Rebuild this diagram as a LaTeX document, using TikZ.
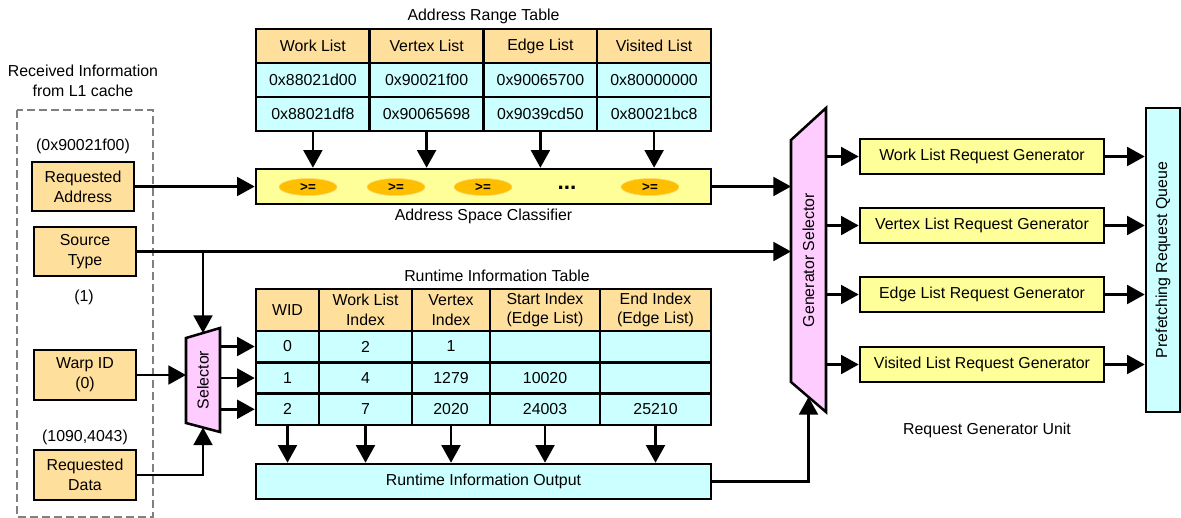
\documentclass[tikz,border=0pt]{standalone}
\usepackage{fontspec}
\setmainfont{Liberation Sans}
\usepackage{xcolor}
\usetikzlibrary{shapes,arrows.meta,positioning,calc}

\definecolor{hdrorange}{HTML}{FFDF9C}
\definecolor{cellcyan}{HTML}{CCFFFF}
\definecolor{unityellow}{HTML}{FFFF99}
\definecolor{cmpgold}{HTML}{FFBF00}
\definecolor{selpink}{HTML}{FFCCFF}

\tikzset{
  box/.style={draw, line width=1.8pt, inner sep=1pt, align=center, font=\fontsize{11.3}{14}\selectfont},
  hdr/.style={box, fill=hdrorange},
  cell/.style={box, fill=cellcyan},
  gen/.style={box, fill=unityellow},
  cmp/.style={ellipse, fill=cmpgold, draw=cmpgold!60, minimum width=14.5mm, minimum height=4.25mm, inner sep=0, font=\bfseries\fontsize{9.5}{9.5}\selectfont},
  arr/.style={line width=1.8pt, -{Triangle[length=4.4mm,width=4.7mm]}},
  lbl/.style={align=center, font=\fontsize{11.3}{14}\selectfont},
}

\begin{document}
\begin{tikzpicture}[x=0.025cm, y=-0.025cm]
        \useasboundingbox (0,0) rectangle (1181,518);
        % Received information
        \draw[gray, line width=0.8pt, dash pattern=on 2mm off 1mm] (17,110) rectangle (153,517);
        \node[lbl] (rcv) at (83,81) {Received Information\\from L1 cache};
        \node[hdr, minimum width=25.5mm, minimum height=12.25mm] (reqaddr) at (83,186.5) {Requested\\Address};
        \node[hdr, minimum width=25.5mm, minimum height=12.25mm] (srctype) at (85,251.5) {Source\\Type};
        \node[hdr, minimum width=25.5mm, minimum height=12.5mm] (warpid) at (85,375) {Warp ID\\(0)};
        \node[hdr, minimum width=25.5mm, minimum height=12.5mm] (reqdata) at (85,475) {Requested\\Data};
        \node[lbl] (addrval) at (83,146) {(0x90021f00)};
        \node[lbl] (typeval) at (84,297) {(1)};
        \node[lbl] (dataval) at (85,437) {(1090,4043)};
        % Address space classifier
        \node[gen, minimum width=113.75mm, minimum height=8.75mm] (asc) at (483.5,186.5) {};
        \foreach \x [count=\i] in {308,396,483,650} {
            \node[cmp] (cmp\i) at (\x,187) {>=};
        }
        \node[font=\bfseries\fontsize{16}{16}\selectfont] (dots) at (567,188) {...};
        \node[lbl] (asclbl) at (483.5,216) {Address Space Classifier};
        % Address range table
        \node[lbl] (artlbl) at (483.5,16) {Address Range Table};
        \foreach \x/\name/\lo/\hi [count=\i] in {312.9/Work List/0x88021d00/0x88021df8,
            426.6/Vertex List/0x90021f00/0x90065698, 540.4/Edge List/0x90065700/0x9039cd50,
            654.1/Visited List/0x80000000/0x80021bc8} {
            \node[hdr, minimum width=28.44mm, minimum height=8.5mm] (art-h\i) at (\x,46) {\name};
            \node[cell, minimum width=28.44mm, minimum height=8.5mm] (art-a\i) at (\x,80) {\lo};
            \node[cell, minimum width=28.44mm, minimum height=8.5mm] (art-b\i) at (\x,114) {\hi};
            \draw[arr] (art-b\i.south) -- (art-b\i.south |- asc.north);
        }
        % Runtime information table
        \node[lbl] (rtlbl) at (497,276) {Runtime Information Table};
        \node[cell, minimum width=113.75mm, minimum height=8.75mm] (rio) at (483.5,481.5) {Runtime Information Output};
        \foreach \x/\w/\head/\ra/\rb/\rc [count=\i] in {287.5/63/WID/0/1/2,
            365.5/93/{Work List\\Index}/2/4/7, 451/78/{Vertex\\Index}/1/1279/2020,
            545/110/{Start Index\\(Edge List)}/{}/10020/24003,
            655.5/111/{End Index\\(Edge List)}/{}/{}/25210} {
            \node[hdr, minimum width=\w*0.25mm, minimum height=10.5mm] (rt-h\i) at (\x,310) {\head};
            \node[cell, minimum width=\w*0.25mm, minimum height=7.85mm] (rt-a\i) at (\x,346.5) {\ra};
            \node[cell, minimum width=\w*0.25mm, minimum height=7.85mm] (rt-b\i) at (\x,378) {\rb};
            \node[cell, minimum width=\w*0.25mm, minimum height=7.85mm] (rt-c\i) at (\x,409.25) {\rc};
            \draw[arr] (rt-c\i.south) -- (rt-c\i.south |- rio.north);
        }
        % Selector
        \coordinate (sl-t) at (186,338);
        \coordinate (sl-b) at (186,423);
        \coordinate (sr-t) at (220,328);
        \coordinate (sr-b) at (220,432);
        \draw[line width=1.8pt, fill=selpink] (sl-t) -- (sr-t) -- (sr-b) -- (sl-b) -- cycle;
        \node[lbl, rotate=90] (sel) at (203,380) {Selector};
        % Generator selector
        \coordinate (gs-tl) at (791,140);
        \coordinate (gs-bl) at (791,382);
        \coordinate (gs-tr) at (826,108);
        \coordinate (gs-br) at (826,412);
        \draw[line width=1.8pt, fill=selpink] (gs-tl) -- (gs-tr) -- (gs-br) -- (gs-bl) -- cycle;
        \node[lbl, rotate=90] (gsel) at (808.5,260) {Generator Selector};
        % Prefetching queue
        \node[cell, rotate=90, minimum width=76mm, minimum height=8.5mm] (prq) at (1163,260) {Prefetching Request Queue};
        \node[lbl] (rgulbl) at (987,430) {Request Generator Unit};
        % Request generators
        \foreach \y/\name [count=\i] in {156.5/Work, 225.5/Vertex, 294.5/Edge, 364.5/Visited} {
            \node[gen, minimum width=61mm, minimum height=8.75mm] (gen\i) at (982,\y) {\name{} List Request Generator};
            \draw[arr] (gs-tr |- gen\i.west) -- (gen\i.west);
            \draw[arr] (gen\i.east) -- (gen\i.east -| prq.north);
        }
        % Connections
        \draw[arr] (reqaddr.east) -- (asc.west);
        \draw[arr] (asc.east) -- (asc.east -| gs-tl);
        \draw[arr] (srctype.east) -- (srctype.east -| gs-tl);
        \draw[arr] (srctype.east -| sel) -- ($(sl-t)!0.5!(sr-t)$);
        \draw[arr] (warpid.east) -- (warpid.east -| sl-t);
        \draw[arr] (reqdata.east) -| ($(sl-b)!0.5!(sr-b)$);
        \foreach \i in {a,b,c} {
            \draw[arr] (sr-t |- rt-\i1.west) -- (rt-\i1.west);
        }
        \draw[arr] (rio.east) -| ($(gs-bl)!0.5!(gs-br)$);
\end{tikzpicture}
\end{document}
